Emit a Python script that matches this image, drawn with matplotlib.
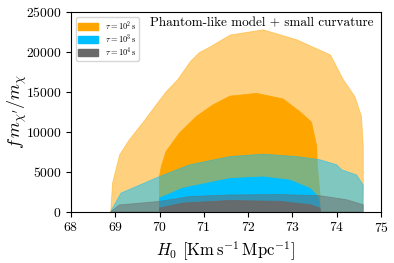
import matplotlib
matplotlib.use('Agg')
import matplotlib.pyplot as plt
import numpy as np
from matplotlib.patches import Patch

plt.rcParams['font.family'] = 'serif'
plt.rcParams['font.serif'] = ['cmr10']
plt.rcParams['mathtext.fontset'] = 'cm'
plt.rcParams['axes.formatter.use_mathtext'] = True

# upper edges of the credible regions (H0, f m_chi'/m_chi), closed down to 0
h0_t2_95 = [68.90, 68.94, 69.10, 69.32, 69.62, 69.89, 70.15, 70.41, 70.70, 70.90, 71.14,
            71.60, 72.34, 73.10, 73.86, 74.00, 74.15, 74.41, 74.56, 74.60, 74.60, 74.58]
f_t2_95 = [0, 3580, 7100, 9000, 11100, 13100, 15000, 16500, 18800, 19900, 20600,
           22100, 22750, 21500, 19600, 18100, 16500, 14400, 11900, 8160, 3500, 0]

h0_t2_68 = [70.00, 70.00, 70.04, 70.15, 70.45, 70.83, 71.21, 71.59, 72.19, 72.79,
            73.17, 73.43, 73.55, 73.56, 73.62, 73.62]
f_t2_68 = [0, 4400, 5650, 7540, 9840, 11900, 13370, 14450, 14800, 14100,
           12500, 11200, 8160, 6000, 2300, 0]

h0_t3_95 = [68.90, 68.92, 69.13, 70.00, 70.68, 71.59, 72.34, 73.10, 73.62, 74.00,
            74.11, 74.45, 74.60, 74.60]
f_t3_95 = [0, 250, 2330, 4400, 5870, 6900, 7200, 6900, 6500, 5870,
           5250, 4600, 3330, 0]

h0_t3_68 = [70.00, 70.00, 70.53, 71.59, 72.34, 72.94, 73.40, 73.58, 73.62, 73.62]
f_t3_68 = [0, 1700, 2950, 4150, 4350, 3950, 2900, 1900, 900, 0]

h0_t4_95 = [68.90, 69.09, 70.00, 70.68, 71.59, 72.72, 73.62, 74.22, 74.60, 74.60]
f_t4_95 = [0, 840, 1290, 1900, 2100, 2150, 2000, 1500, 870, 0]

h0_t4_68 = [70.00, 70.00, 70.53, 71.59, 72.72, 73.40, 73.62, 73.64]
f_t4_68 = [0, 460, 1080, 1400, 1290, 870, 460, 0]

labels = [r'$\tau = 10^2\,\mathrm{s}$', r'$\tau = 10^3\,\mathrm{s}$', r'$\tau = 10^4\,\mathrm{s}$']
colors = ['orange', 'deepskyblue', 'dimgray']

fig = plt.figure(figsize=(3.94, 2.63), dpi=100)
ax = fig.add_axes([0.18, 0.195, 0.787, 0.76])

def region(x, y, color, alpha):
    x = np.asarray(x)
    y = np.asarray(y)
    ax.fill(np.r_[x, x[0]], np.r_[y, 0], color=color, alpha=alpha, lw=0.6)

region(h0_t2_95, f_t2_95, colors[0], 0.5)
region(h0_t2_68, f_t2_68, colors[0], 1.0)
region(h0_t3_95, f_t3_95, colors[1], 0.5)
region(h0_t3_68, f_t3_68, colors[1], 1.0)
region(h0_t4_95, f_t4_95, colors[2], 0.5)
region(h0_t4_68, f_t4_68, colors[2], 0.95)

ax.set_xlim(68, 75)
ax.set_ylim(0, 25000)
ax.set_xticks(range(68, 76))
ax.set_yticks(range(0, 25001, 5000))
ax.tick_params(labelsize=9.8, direction='out', length=3.5)
ax.set_xlabel(r'$H_0$ [Km$\,$s$^{-1}$$\,$Mpc$^{-1}$]', fontsize=12, labelpad=3)
ax.set_ylabel(r"$f\,m_{\chi^\prime}/m_\chi$", fontsize=13)
ax.yaxis.set_label_coords(-0.135, 0.5)

ax.text(0.975, 0.975, 'Phantom-like model + small curvature', transform=ax.transAxes,
        ha='right', va='top', fontsize=9.5)

handles = [Patch(color=c) for c in colors]
ax.legend(handles, labels, loc='upper left', fontsize=6, borderaxespad=0.6,
          borderpad=0.3, handlelength=2.4, handleheight=0.8, labelspacing=0.0,
          handletextpad=0.75)

fig.savefig('out.png', dpi=100)
